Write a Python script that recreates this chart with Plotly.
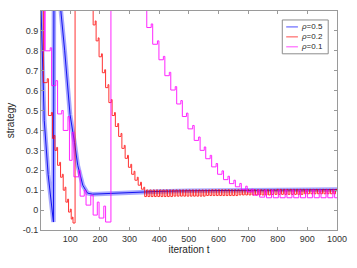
import plotly.graph_objects as go

# ---------------- data ----------------
series_names = ["ρ=0.5", "ρ=0.2", "ρ=0.1"]

# rho = 0.5 (smooth curve)
blue_t = [1, 6, 12, 25, 43, 45, 60, 68, 81, 99, 114, 125, 142, 158, 175, 200, 285, 400, 500, 700, 1000]
blue_v = [1.02, 0.75, 0.45, 0.18, -0.06, 1.3, 1.12, 1.0, 0.8, 0.48, 0.34, 0.225, 0.125, 0.085, 0.08,
          0.082, 0.088, 0.094, 0.097, 0.1, 0.103]

# rho = 0.2 (staircase, step values held until next t)
red_t = [1, 9, 22, 26, 36, 40, 45, 48, 54, 57, 64, 67, 73, 76, 82, 85, 91, 94, 100, 103, 107, 109,
         116, 177, 184, 187, 194, 197, 205, 208, 216, 219, 227, 230, 238, 241, 249, 252, 260, 263,
         271, 274, 282, 285, 293, 296, 304, 307, 315, 318, 326, 329, 337, 340, 348]
red_v = [1.3, 0.64, 0.66, 0.475, 0.49, 0.36, 0.375, 0.30, 0.315, 0.225, 0.24, 0.165, 0.18, 0.10,
         0.115, 0.04, 0.055, -0.01, 0.005, -0.045, -0.035, -0.065,
         1.3, 0.93, 0.95, 0.85, 0.865, 0.77, 0.785, 0.69, 0.705, 0.615, 0.63, 0.54, 0.555, 0.475,
         0.49, 0.42, 0.435, 0.37, 0.385, 0.31, 0.325, 0.26, 0.275, 0.215, 0.23, 0.18, 0.195, 0.15,
         0.165, 0.125, 0.14, 0.105, 0.115]
# rho = 0.2 late oscillation
red_osc_down_t = [351, 362, 373, 384, 395, 406, 417, 428, 439, 450, 461, 472, 483, 494, 505, 516,
                  527, 538, 549, 560, 571, 582, 593, 604, 615, 626, 637, 648, 659, 670, 681, 692,
                  703, 714, 725, 736, 747, 758, 769, 780, 791, 802, 813, 824, 835, 846, 857, 868,
                  879, 890, 901, 912, 923, 934, 945, 956, 967, 978, 989]
red_osc_up_t = [357, 368, 379, 390, 401, 412, 423, 434, 445, 456, 467, 478, 489, 500, 511, 522,
                533, 544, 555, 566, 577, 588, 599, 610, 621, 632, 643, 654, 665, 676, 687, 698,
                709, 720, 731, 742, 753, 764, 775, 786, 797, 808, 819, 830, 841, 852, 863, 874,
                885, 896, 907, 918, 929, 940, 951, 962, 973, 984, 995]
red_osc_low = [0.068] * 9 + [0.07] * 10 + [0.073] * 10 + [0.076] * 10 + [0.079] * 10 + [0.082] * 10
red_osc_high = [0.101] * 20 + [0.102] * 20 + [0.104] * 19

# rho = 0.1 (staircase)
mag_t = [1, 13, 15, 32, 37, 51, 57, 71, 76, 92, 97, 106, 112, 128, 133, 147, 153, 169, 177, 191,
         197, 213, 219, 237,
         358, 373, 378, 394, 399, 414, 419, 434, 439, 454, 459, 473, 478, 492, 497, 513, 518, 533,
         538, 552, 557, 572, 577, 592, 597, 612, 617, 632, 637, 652, 657, 672, 677, 692, 697,
         712, 717, 733, 739, 756, 762, 779, 785, 802, 808, 825, 831, 848, 854, 871, 877, 894, 900,
         917, 923, 940, 946, 963, 969, 986, 992, 1000]
mag_v = [0.8, 1.3, 0.8, 0.815, 0.625, 0.65, 0.483, 0.50, 0.40, 0.47, 0.25, 0.39, 0.167, 0.20, 0.07,
         0.10, 0.025, 0.075, -0.025, 0.04, -0.04, 0.02, -0.06, 1.3,
         0.917, 0.935, 0.833, 0.85, 0.755, 0.772, 0.675, 0.692, 0.603, 0.62, 0.533, 0.55, 0.47,
         0.487, 0.408, 0.425, 0.35, 0.367, 0.30, 0.317, 0.258, 0.275, 0.217, 0.234, 0.18, 0.197,
         0.153, 0.17, 0.133, 0.15, 0.117, 0.134, 0.103, 0.12, 0.092,
         0.105, 0.075, 0.10, 0.065, 0.10, 0.062, 0.10, 0.062, 0.10, 0.062, 0.10, 0.062, 0.10,
         0.062, 0.10, 0.062, 0.10, 0.062, 0.10, 0.062, 0.10, 0.062, 0.10, 0.062, 0.10, 0.062,
         0.062]

x_ticks = [100, 200, 300, 400, 500, 600, 700, 800, 900, 1000]
y_ticks = [-0.1, 0, 0.1, 0.2, 0.3, 0.4, 0.5, 0.6, 0.7, 0.8, 0.9]
y_tick_labels = ["-0.1", "0", "0.1", "0.2", "0.3", "0.4", "0.5", "0.6", "0.7", "0.8", "0.9"]

# ---------------- assemble red path ----------------
red_all_t = list(red_t)
red_all_v = list(red_v)
for d, u, lo, hi in zip(red_osc_down_t, red_osc_up_t, red_osc_low, red_osc_high):
    red_all_t += [d, u]
    red_all_v += [lo, hi]
red_all_t.append(1000)
red_all_v.append(red_osc_high[-1])

BLUE = "rgb(0,0,255)"
RED = "rgb(255,0,0)"
MAG = "rgb(255,0,255)"

fig = go.Figure()
# blue thick translucent band + thin core
fig.add_trace(go.Scatter(x=blue_t, y=blue_v, mode="lines",
                         line=dict(color="rgba(60,60,255,0.45)", width=4.5),
                         showlegend=False, hoverinfo="skip"))
fig.add_trace(go.Scatter(x=blue_t, y=blue_v, mode="lines", name=series_names[0],
                         line=dict(color="rgb(20,20,240)", width=1), showlegend=False))
fig.add_trace(go.Scatter(x=red_all_t, y=red_all_v, mode="lines", name=series_names[1],
                         line=dict(color=RED, width=1, shape="hv"), opacity=0.8,
                         showlegend=False))
fig.add_trace(go.Scatter(x=mag_t, y=mag_v, mode="lines", name=series_names[2],
                         line=dict(color=MAG, width=1, shape="hv"), opacity=0.85,
                         showlegend=False))

W, H = 357, 268
L, R, T, B = 40, 14, 10, 38
PW, PH = W - L - R, H - T - B


def px_x(px):
    return (px - L) / PW


def px_y(py):
    return (H - B - py) / PH


# manual legend (MATLAB style)
shapes = [dict(type="rect", xref="paper", yref="paper",
               x0=px_x(287), x1=px_x(334), y0=px_y(53), y1=px_y(19),
               line=dict(color="#8c8c8c", width=1), fillcolor="white", layer="above")]
annotations = []
leg_colors = [BLUE, RED, MAG]
leg_y = [26, 36, 46]
leg_labels = ["<i>ρ</i>=0.5", "<i>ρ</i>=0.2", "<i>ρ</i>=0.1"]
for c, yy, lab in zip(leg_colors, leg_y, leg_labels):
    shapes.append(dict(type="line", xref="paper", yref="paper",
                       x0=px_x(291), x1=px_x(303), y0=px_y(yy), y1=px_y(yy),
                       line=dict(color=c, width=1), opacity=0.7, layer="above"))
    annotations.append(dict(xref="paper", yref="paper", x=px_x(304), y=px_y(yy),
                            xanchor="left", yanchor="middle", text=lab, showarrow=False,
                            font=dict(size=8, color="#262626", family="Liberation Sans")))

axis_common = dict(showline=True, linecolor="#9a9a9a", linewidth=1, mirror="ticks",
                   ticks="inside", ticklen=3, tickcolor="#9a9a9a", showgrid=False,
                   zeroline=False, tickfont=dict(size=9, color="#333333",
                                                 family="Liberation Sans"))

fig.update_layout(
    width=W, height=H,
    margin=dict(l=L, r=R, t=T, b=B),
    plot_bgcolor="white", paper_bgcolor="white",
    shapes=shapes, annotations=annotations,
    xaxis=dict(range=[1, 1000], tickvals=x_ticks,
               title=dict(text="iteration t", standoff=2,
                          font=dict(size=10, color="#262626", family="Liberation Sans")),
               **axis_common),
    yaxis=dict(range=[-0.1, 1.0], tickvals=y_ticks, ticktext=y_tick_labels,
               title=dict(text="strategy", standoff=6,
                          font=dict(size=10, color="#262626", family="Liberation Sans")),
               **axis_common),
)

fig.write_html("out.html", config={"displayModeBar": False},
               post_script="document.body.style.margin='0px';document.body.style.padding='0px';")
